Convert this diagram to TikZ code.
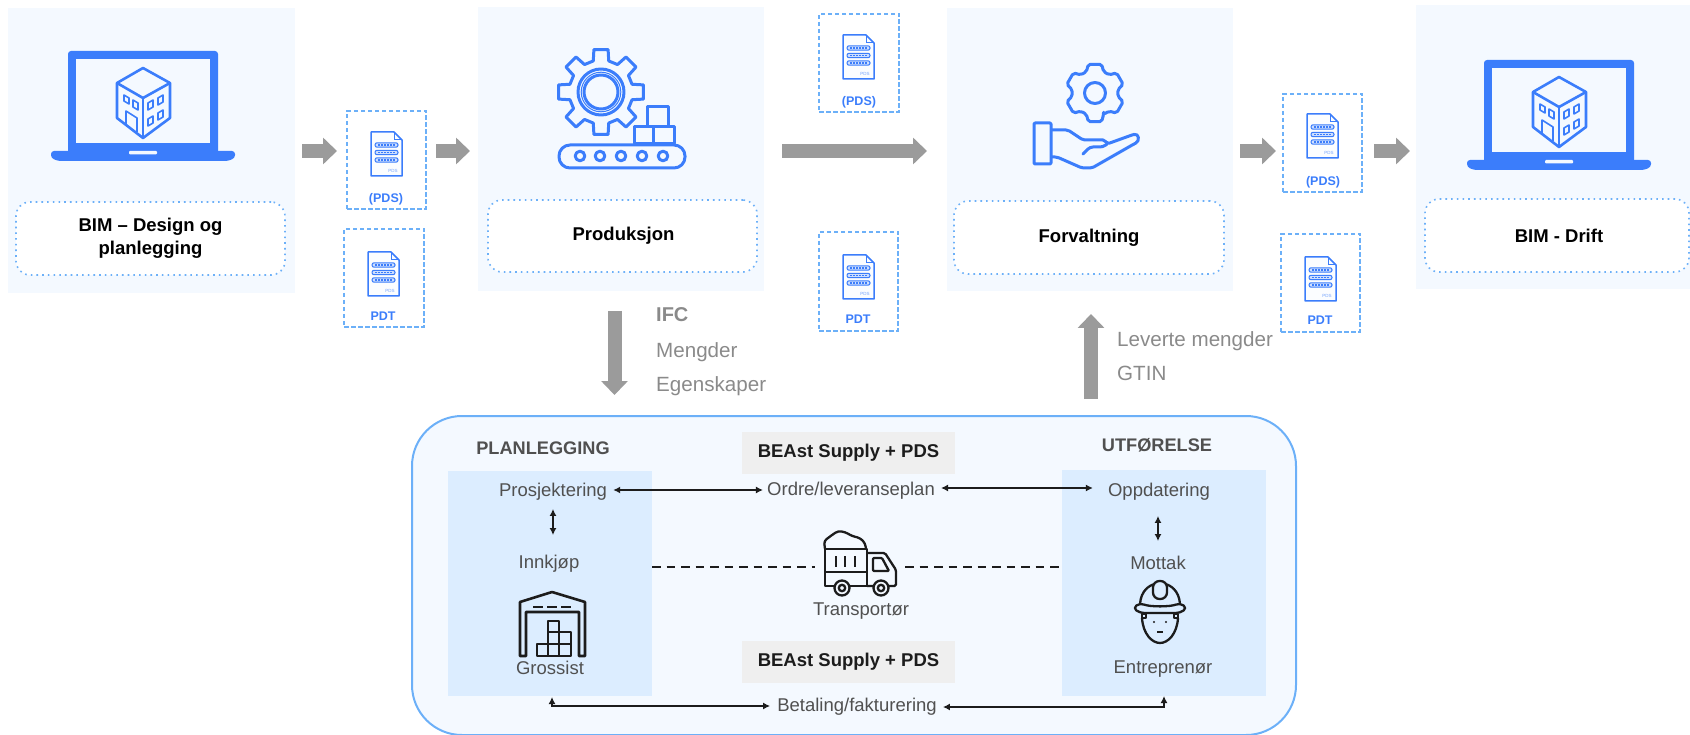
\documentclass[tikz,border=0pt]{standalone}
\usepackage{fontspec}
\setmainfont{Liberation Sans}
\usetikzlibrary{arrows.meta}
\definecolor{iconblue}{HTML}{3B7DFB}
\definecolor{dashblue}{HTML}{6CB0F8}
\definecolor{panelfill}{HTML}{F4F9FF}
\definecolor{zonefill}{HTML}{DCEDFF}
\definecolor{greybar}{HTML}{EFEFEF}
\definecolor{blockgrey}{HTML}{9B9B9B}
\definecolor{textgrey}{HTML}{505050}
\definecolor{softgrey}{HTML}{8A8A8A}
\definecolor{ink}{HTML}{1C1C1C}
\newcommand{\bx}[7]{%
  \pgfmathsetmacro{\bxcx}{(#3+#5)/2}%
  \pgfmathsetmacro{\bxcy}{(#4+#6)/2}%
  \pgfmathsetmacro{\bxw}{#5-#3}%
  \pgfmathsetmacro{\bxh}{#6-#4}%
  \node[#1,minimum width=\bxw pt,minimum height=\bxh pt,inner sep=0pt,outer sep=0pt] (#2) at (\bxcx,\bxcy) {#7};%
}
\tikzset{
  x=1pt,y=-1pt,
  panel/.style={fill=panelfill},
  dotbox/.style={draw=dashblue,fill=white,line width=1.6pt,dash pattern=on 1.6pt off 4.1pt,rounded corners=14pt,
    font=\fontsize{18.5}{23}\selectfont\bfseries,text=black,align=center},
  docbox/.style={draw=dashblue,line width=1.6pt,dash pattern=on 4.5pt off 2.5pt},
  container/.style={draw=dashblue,line width=2pt,fill=panelfill,rounded corners=50pt},
  zone/.style={fill=zonefill},
  graybar/.style={fill=greybar,font=\fontsize{18.5}{23}\selectfont\bfseries,text=ink},
  doclabel/.style={font=\fontsize{12.5}{14}\selectfont\bfseries,text=iconblue,text height=9pt,text depth=2.5pt,inner sep=0pt},
  word/.style={font=\fontsize{18.5}{22}\selectfont,text=textgrey,text height=13.5pt,text depth=4pt,inner sep=0pt},
  heading/.style={font=\fontsize{18.2}{22}\selectfont\bfseries,text=textgrey,text height=13.5pt,text depth=4pt,inner sep=0pt},
  softword/.style={font=\fontsize{20.6}{24}\selectfont,text=softgrey,text height=15pt,text depth=4.5pt,inner sep=0pt,anchor=west},
  softbold/.style={softword,font=\fontsize{20}{24}\selectfont\bfseries},
  blockarrow/.style={draw=blockgrey,line width=14pt,-{Triangle[length=14pt,width=26pt,fill=blockgrey]}},
  flow/.style={draw=ink,line width=1.8pt,{Latex[length=7pt,width=7pt]}-{Latex[length=7pt,width=7pt]}},
  dashlink/.style={draw=ink,line width=1.8pt,dash pattern=on 8.5pt off 6pt},
  blueline/.style={draw=iconblue,line width=3pt,line join=round},
  blackline/.style={draw=ink,line width=2.3pt,line join=round},
  pics/docicon/.style={code={
    \draw[draw=iconblue,line width=1.5pt,fill=panelfill!40!white,line join=round] (0,0) -- (23,0) -- (31,8) -- (31,44) -- (0,44) -- cycle;
    \draw[draw=iconblue,line width=1pt] (23,0) -- (23,8) -- (31,8);
    \foreach \by in {13,20.5,28}{
      \draw[draw=iconblue,line width=1pt,fill=iconblue!25!white,rounded corners=2pt] (4,\by-2.2) rectangle (27,\by+2.2);
      \draw[draw=iconblue,line width=1.2pt,dash pattern=on 2pt off 1pt] (7,\by) -- (24,\by);
    }
    \node[font=\fontsize{4.5}{5}\selectfont,text=iconblue!70!white,inner sep=0pt] (-lab) at (22,39) {PDS};
  }},
  pics/laptop/.style={code={
    \fill[iconblue,rounded corners=3pt] (68,51) -- (218,51) -- (218,155) -- (68,155) -- cycle;
    \fill[panelfill] (76,59) rectangle (210,143);
    \fill[iconblue,rounded corners=3pt] (51,151) -- (235,151) -- (235,158) -- (228,161) -- (58,161) -- (51,158) -- cycle;
    \fill[panelfill,rounded corners=1pt] (129,151) rectangle (157,154.5);
    \begin{scope}[draw=iconblue,line width=2.6pt,line join=round]
      \draw (143,68) -- (170,83) -- (170,118) -- (143,138) -- (117,118) -- (117,83) -- cycle;
      \draw (117,83) -- (143,98) -- (170,83);
      \draw (143,98) -- (143,138);
    \end{scope}
    \begin{scope}[draw=iconblue,line width=1.6pt,line join=round]
      \draw (124,95) -- (129,98) -- (129,104) -- (124,101) -- cycle;
      \draw (133,100) -- (138,103) -- (138,110) -- (133,107) -- cycle;
      \draw (148,103) -- (153,100) -- (153,107) -- (148,110) -- cycle;
      \draw (158,98) -- (163,95) -- (163,102) -- (158,105) -- cycle;
      \draw (148,119) -- (153,116) -- (153,123) -- (148,126) -- cycle;
      \draw (158,113) -- (163,110) -- (163,117) -- (158,120) -- cycle;
      \draw (126,124) -- (126,111) -- (137,118) -- (137,132);
    \end{scope}
  }}
}
\begin{document}
\begin{tikzpicture}
\useasboundingbox (0,0) rectangle (1690,735);
\coordinate (rowA) at (0,151);
\coordinate (dnx) at (614.5,0);
\coordinate (upx) at (1091,0);
% panels
\bx{panel}{p1}{8}{8}{295}{293}{}
\bx{panel}{p2}{478}{7}{764}{291}{}
\bx{panel}{p3}{947}{8}{1233}{291}{}
\bx{panel}{p4}{1416}{5}{1690}{289}{}
% name boxes
\bx{dotbox}{n1}{16}{202}{285}{275}{\raisebox{-2.5pt}{\parbox{200pt}{\centering BIM – Design og\\planlegging}}}
\bx{dotbox}{n2}{488}{200}{757}{272}{\raisebox{-2pt}{\hspace*{2pt}Produksjon}}
\bx{dotbox}{n3}{954}{201}{1224}{274}{\raisebox{-2pt}{Forvaltning}}
\bx{dotbox}{n4}{1425}{199}{1689}{272}{\raisebox{-1pt}{\hspace*{4pt}BIM - Drift}}
% laptops
\pic (lapA) at (0,0) {laptop};
\pic (lapB) at (1416,9) {laptop};
% gear + conveyor
\begin{scope}[shift={(601,92)}]
  \draw[blueline] (-14:32) \foreach \a in {0,45,...,315}{ -- (\a-14:32) -- (\a-9.5:43) -- (\a+9.5:43) -- (\a+14:32)} -- cycle;
  \draw[blueline] (0,0) circle (23);
  \draw[blueline] (0,0) circle (17);
  \draw[draw=iconblue,line width=1pt] (0,0) circle (19.8);
\end{scope}
\draw[blueline] (647,107) rectangle (668,127);
\draw[blueline] (634,127) rectangle (653,144);
\draw[blueline] (653,127) rectangle (674,144);
\draw[blueline,fill=panelfill,rounded corners=11pt] (559,145) rectangle (685,168);
\foreach \rx in {580,600,621,642,663}{\draw[blueline] (\rx,156) circle (4.8);}
% hand + gear
\begin{scope}[shift={(1095,93)}]
  \draw[blueline,rounded corners=2pt] (68:23) \foreach \a in {90,150,210,270,330,390}{ -- (\a-22:23) -- (\a-13:29.5) -- (\a+13:29.5) -- (\a+22:23)} -- cycle;
  \draw[blueline] (0,0) circle (10.5);
\end{scope}
\draw[blueline,rounded corners=1pt] (1034,123) rectangle (1051,164);
\draw[blueline,rounded corners=2pt] (1051,130) -- (1068,130) -- (1083,140) -- (1105,140) -- (1107,144) -- (1132,135) .. controls (1139,133) and (1140,141) .. (1134,144) -- (1092,168) -- (1082,168) -- (1057,157) -- (1051,157);
\draw[blueline,line cap=round,rounded corners=3pt] (1083,154) -- (1090,147) -- (1103,147) -- (1107,144);
% document boxes
\bx{docbox}{dA}{347}{111}{426}{209}{}
\bx{docbox}{dB}{344}{229}{424}{327}{}
\bx{docbox}{dC}{819}{14}{899}{112}{}
\bx{docbox}{dD}{819}{232}{898}{331}{}
\bx{docbox}{dE}{1283}{94}{1362}{192}{}
\bx{docbox}{dF}{1281}{234}{1360}{332}{}
\pic (iA) at (371,132) {docicon};
\pic (iB) at (368,252) {docicon};
\pic (iC) at (843,35) {docicon};
\pic (iD) at (843,255) {docicon};
\pic (iE) at (1307,114) {docicon};
\pic (iF) at (1305,257) {docicon};
\node[doclabel] (lA) at (386,199) {(PDS)};
\node[doclabel] (lB) at (383,317) {PDT};
\node[doclabel] (lC) at (859,102) {(PDS)};
\node[doclabel] (lD) at (858,320) {PDT};
\node[doclabel] (lE) at (1323,182) {(PDS)};
\node[doclabel] (lF) at (1320,321) {PDT};
% block arrows of the top row
\draw[blockarrow,shorten <=7pt,shorten >=10pt] (p1.east |- rowA) -- (dA.west |- rowA);
\draw[blockarrow,shorten >=8pt,shorten <=10pt] (dA.east |- rowA) -- (p2.west |- rowA);
\draw[blockarrow,shorten <=18pt,shorten >=20pt] (p2.east |- rowA) -- (p3.west |- rowA);
\draw[blockarrow,shorten <=7pt,shorten >=7pt] (p3.east |- rowA) -- (dE.west |- rowA);
\draw[blockarrow,shorten <=12pt,shorten >=6pt] (dE.east |- rowA) -- (p4.west |- rowA);
% lower container
\bx{container}{box}{412}{416}{1296}{735}{}
\bx{zone}{plan}{448}{471}{652}{696}{}
\bx{zone}{util}{1062}{470}{1266}{696}{}
\bx{graybar}{barA}{742}{432}{955}{474}{\raisebox{-2pt}{BEAst Supply + PDS}}
\bx{graybar}{barB}{742}{641}{955}{683}{\raisebox{-2pt}{BEAst Supply + PDS}}
% vertical block arrows and labels
\draw[blockarrow,shorten <=20pt,shorten >=21pt] (p2.south -| dnx) -- (box.north -| dnx);
\draw[blockarrow,shorten <=17pt,shorten >=23pt] (box.north -| upx) -- (p3.south -| upx);
\node[softbold] (ifc) at (656,316) {IFC};
\node[softword] (meng) at (656,352) {Mengder};
\node[softword] (egen) at (656,386) {Egenskaper};
\node[softword] (lev) at (1117,341) {Leverte mengder};
\node[softword] (gtin) at (1117,375) {GTIN};
% container text
\node[heading] (tPlan) at (543,450) {PLANLEGGING};
\node[heading] (tUtf) at (1157,447) {UTFØRELSE};
\node[word] (prosj) at (553,492) {Prosjektering};
\node[word] (ordre) at (851,491) {Ordre/leveranseplan};
\node[word] (opp) at (1159,492) {Oppdatering};
\node[word] (innk) at (549,564) {Innkjøp};
\node[word] (mott) at (1158,565) {Mottak};
\node[word] (trans) at (861,611) {Transportør};
\node[word] (gros) at (550,670) {Grossist};
\node[word] (entr) at (1163,669) {Entreprenør};
\node[word] (betal) at (857,707) {Betaling/fakturering};
% thin connectors
\draw[flow,shorten <=6pt,shorten >=4pt] ([yshift=2pt]prosj.east) -- ([yshift=2pt]prosj.east -| ordre.west);
\draw[flow,shorten <=6pt,shorten >=15pt] ([yshift=3pt]ordre.east) -- ([yshift=3pt]ordre.east -| opp.west);
\draw[flow,shorten <=8pt,shorten >=20pt] (prosj.south) -- (prosj.south |- innk.north);
\draw[flow,shorten <=15pt,shorten >=15pt] (opp.south -| mott.north) -- (mott.north);
\draw[flow,shorten >=7pt,shorten <=1pt] ([xshift=2pt]plan.south) |- ([yshift=1pt]betal.west);
\draw[flow,shorten >=6pt] (util.south) |- (betal.east);
% dashed links through the truck
\coordinate (truckL) at (815,567);
\coordinate (truckR) at (905,567);
\draw[dashlink] (plan.east |- truckL) -- (truckL);
\draw[dashlink,shorten >=2pt] (truckR) -- (util.west |- truckR);
% truck
\draw[blackline] (825,549) rectangle (867,586);
\draw[blackline] (825,572) -- (867,572);
\foreach \mx in {836,845,855}{\draw[blackline] (\mx,556) -- (\mx,567);}
\draw[blackline,rounded corners=3pt] (825,549) -- (824,541) -- (832,535) -- (838,531) -- (845,532) -- (852,536) -- (860,538) -- (865,543) -- (866,549);
\draw[blackline,rounded corners=1.5pt] (867,553) -- (885,553) -- (896,570) -- (896,586) -- (867,586);
\draw[blackline,rounded corners=1pt] (873,558) -- (882,558) -- (889,571) -- (873,571) -- cycle;
\draw[blackline,fill=panelfill] (842,588) circle (7.5);
\draw[blackline,fill=panelfill] (842,588) circle (3.2);
\draw[blackline,fill=panelfill] (881,588) circle (7.5);
\draw[blackline,fill=panelfill] (881,588) circle (3.2);
% warehouse
\draw[blackline,line width=2.6pt] (520,656) -- (520,602) -- (552,592) -- (585,602) -- (585,656) -- (579,656) -- (579,612) -- (526,612) -- (526,656) -- cycle;
\draw[blackline,line width=2.6pt] (533,607) -- (543,607);
\draw[blackline,line width=2.6pt] (547,607) -- (557,607);
\draw[blackline,line width=2.6pt] (561,607) -- (571,607);
\draw[blackline] (548,621) rectangle (559,632);
\draw[blackline] (548,632) rectangle (559,644);
\draw[blackline] (559,632) rectangle (571,644);
\draw[blackline] (537,644) rectangle (548,656);
\draw[blackline] (548,644) rectangle (559,656);
\draw[blackline] (559,644) rectangle (571,656);
% worker
\draw[blackline] (1140,604) .. controls (1141,590) and (1150,585) .. (1155,584);
\draw[blackline] (1180,604) .. controls (1179,590) and (1170,585) .. (1165,584);
\draw[blackline,fill=zonefill,rounded corners=6.5pt] (1153,581) rectangle (1167,599);
\draw[blackline,rounded corners=4pt] (1140,603) .. controls (1150,607) and (1170,607) .. (1180,603) -- (1187,608) -- (1180,613) -- (1140,613) -- (1133,608) -- cycle;
\draw[blackline] (1142,614) rectangle (1146,618);
\draw[blackline] (1174,614) rectangle (1178,618);
\draw[blackline] (1142,618) .. controls (1143,634) and (1152,643) .. (1160,643) .. controls (1168,643) and (1177,634) .. (1178,618);
\fill[ink] (1154,622) circle (1.1);
\fill[ink] (1166,622) circle (1.1);
\draw[blackline] (1157,632) -- (1163,632);
\end{tikzpicture}
\end{document}
